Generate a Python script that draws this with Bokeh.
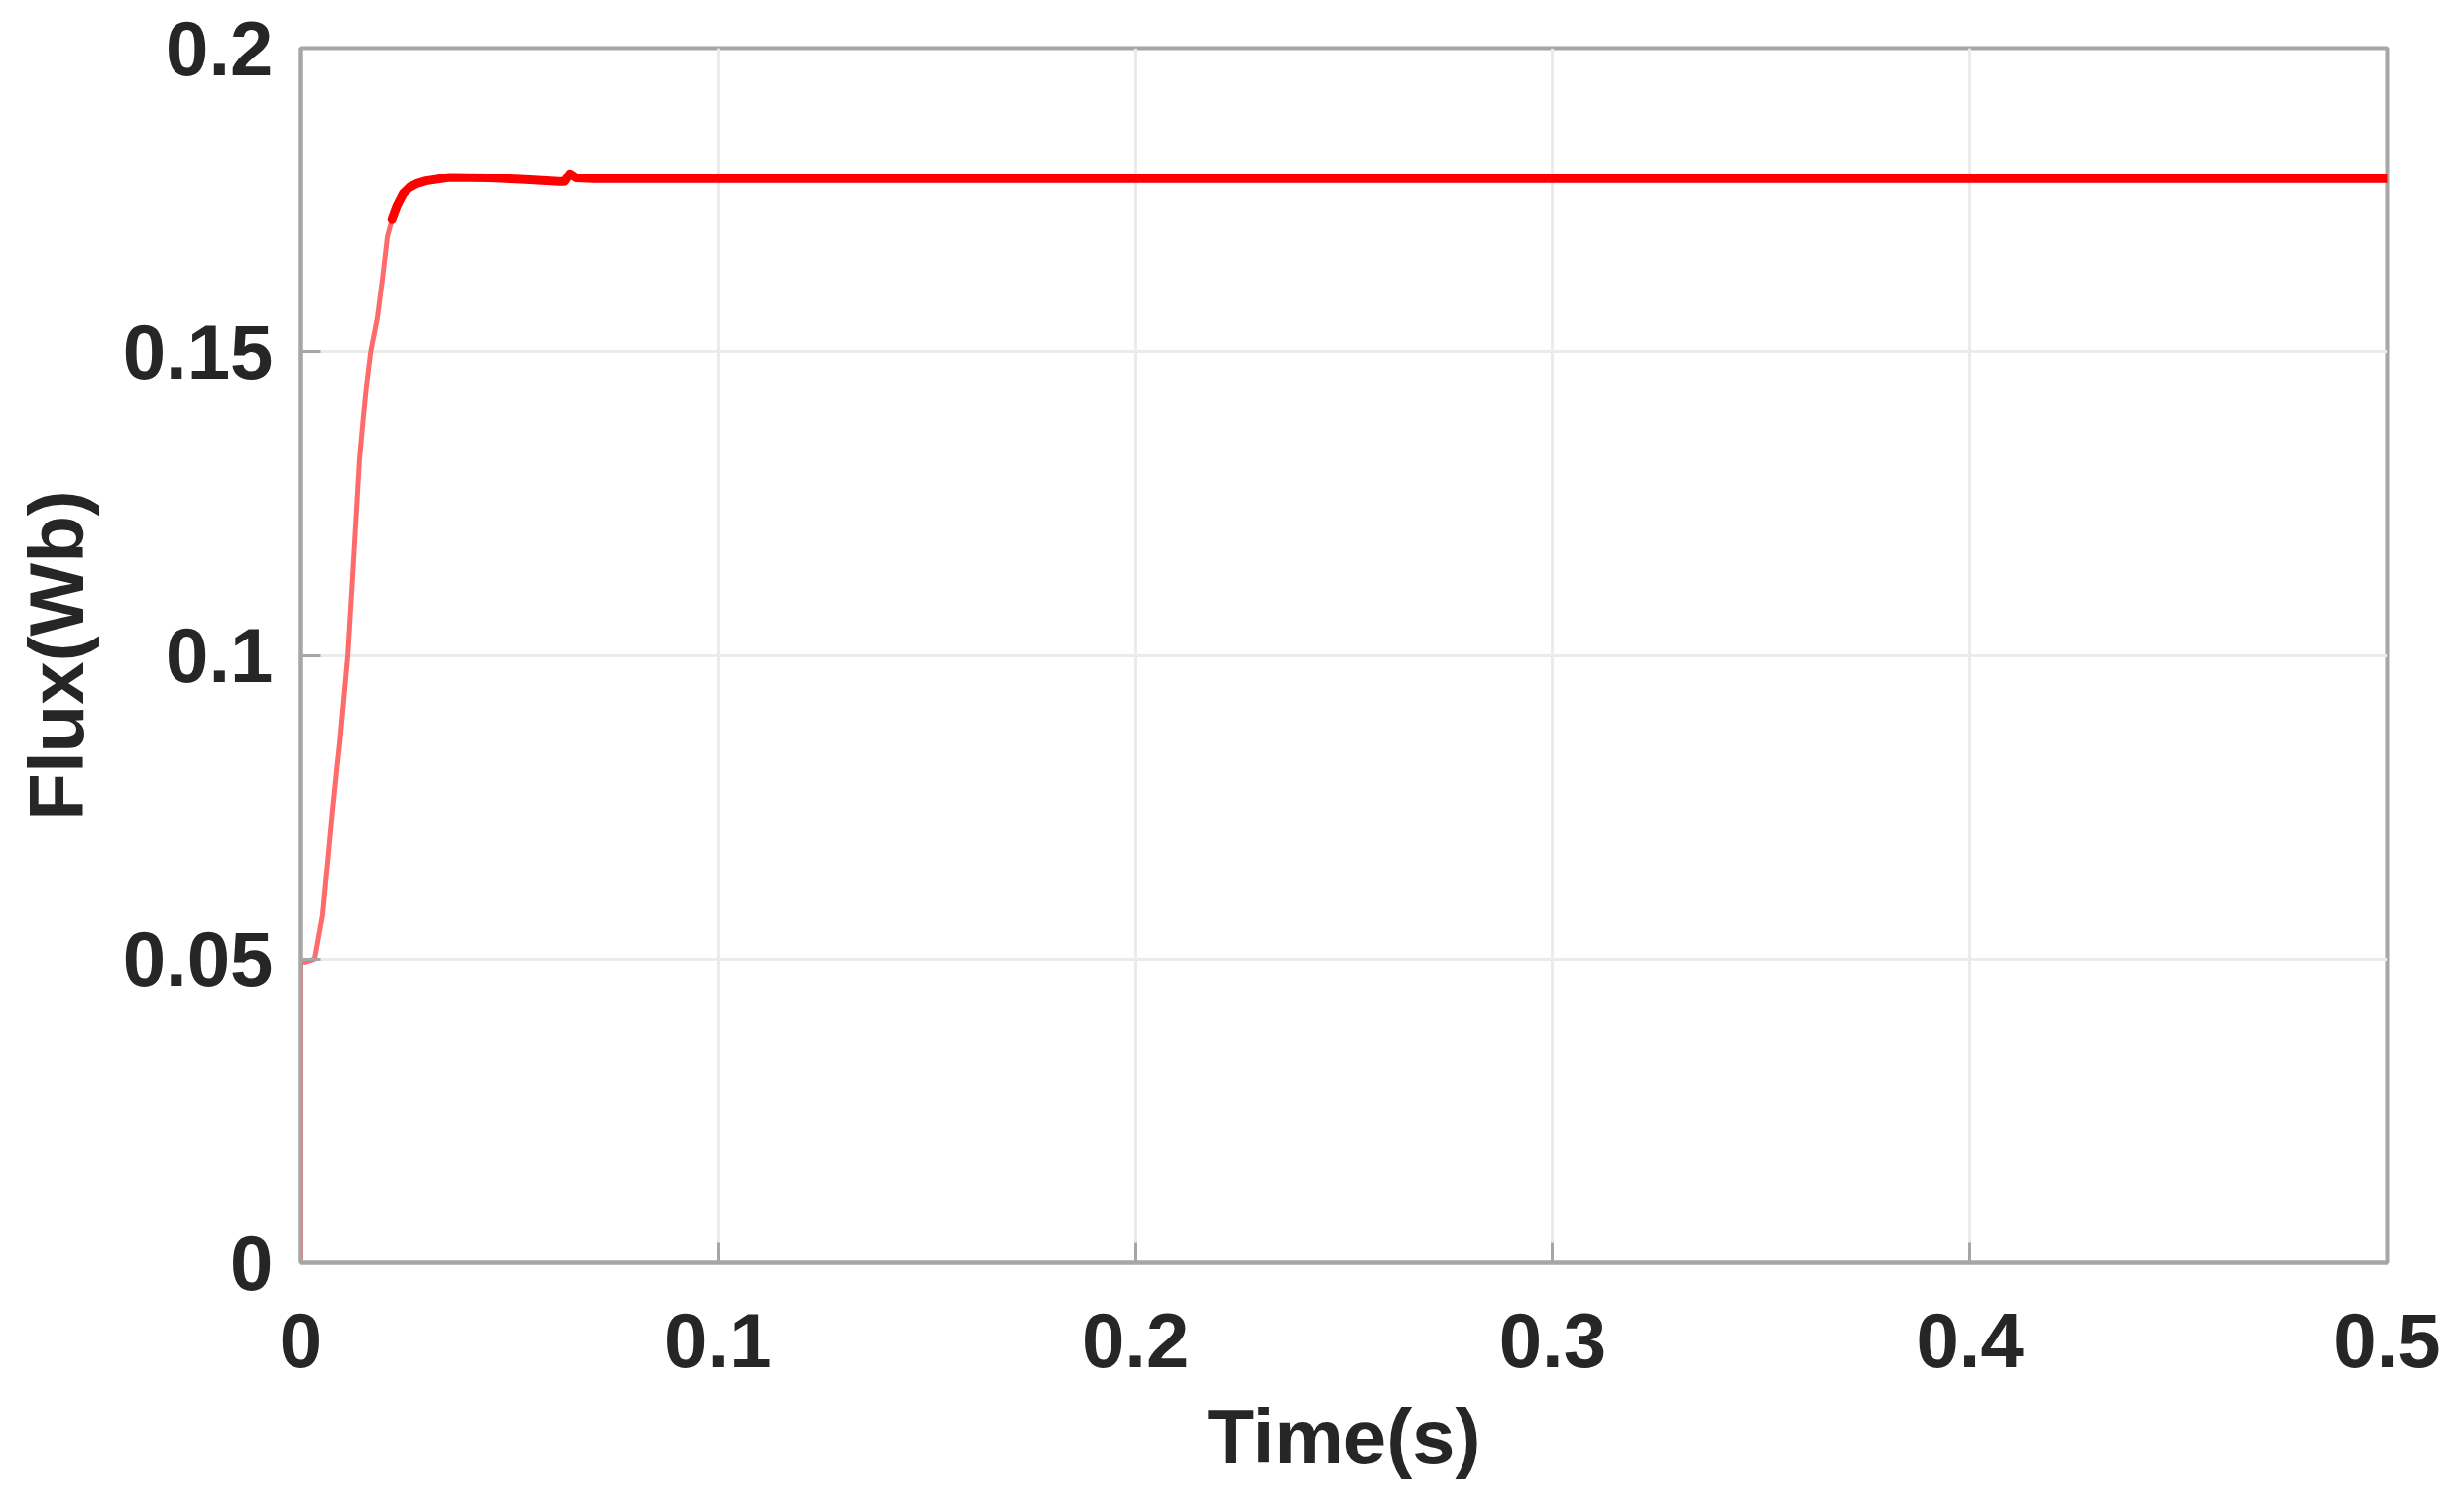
from bokeh.plotting import figure
from bokeh.models import Range1d, FixedTicker
from bokeh.embed import file_html
from bokeh.resources import INLINE

# ---- data ----
time_s = [0.0, 0.0, 0.001, 0.0033, 0.0052, 0.0076, 0.0095, 0.0112, 0.0124, 0.014,
          0.0155, 0.0167, 0.0183, 0.0195, 0.0207, 0.0218, 0.023, 0.0245, 0.026,
          0.028, 0.030, 0.0356, 0.045, 0.055, 0.0618, 0.0632, 0.0645, 0.0660,
          0.070, 0.08, 0.1, 0.15, 0.2, 0.25, 0.3, 0.35, 0.4, 0.45, 0.5]
flux_wb = [0.0, 0.0495, 0.0495, 0.0500, 0.0572, 0.0745, 0.0872, 0.1000, 0.1135, 0.1322,
           0.1433, 0.1500, 0.1556, 0.1620, 0.1690, 0.1718, 0.1740, 0.1760, 0.1770,
           0.1777, 0.1781, 0.1787, 0.1786, 0.1783, 0.1780, 0.1780, 0.1793, 0.1786,
           0.1785, 0.1785, 0.1785, 0.1785, 0.1785, 0.1785, 0.1785, 0.1785, 0.1785,
           0.1785, 0.1785]

x_ticks = [0, 0.1, 0.2, 0.3, 0.4, 0.5]
x_tick_labels = ["0", "0.1", "0.2", "0.3", "0.4", "0.5"]
y_ticks = [0, 0.05, 0.1, 0.15, 0.2]
y_tick_labels = ["0", "0.05", "0.1", "0.15", "0.2"]

FONT = "Liberation Sans"
TEXT = "#262626"
FRAME = "#a6a6a6"

p = figure(frame_width=2104, frame_height=1225,
           min_border_left=303, min_border_right=55,
           min_border_top=48, min_border_bottom=236,
           x_range=Range1d(0, 0.5), y_range=Range1d(0, 0.2),
           output_backend="svg", toolbar_location=None,
           background_fill_color="white", border_fill_color="white")

p.outline_line_color = FRAME
p.outline_line_width = 4

p.xgrid.grid_line_color = "#ebebeb"
p.ygrid.grid_line_color = "#ebebeb"
p.xgrid.grid_line_width = 3
p.ygrid.grid_line_width = 3

for ax, ticks, labels in ((p.xaxis[0], x_ticks, x_tick_labels),
                          (p.yaxis[0], y_ticks, y_tick_labels)):
    ax.ticker = FixedTicker(ticks=ticks)
    ax.major_label_overrides = {t: l for t, l in zip(ticks, labels)}
    ax.minor_tick_line_color = None
    ax.major_tick_out = 0
    ax.major_tick_in = 20
    ax.major_tick_line_color = FRAME
    ax.major_tick_line_width = 3
    ax.axis_line_color = FRAME
    ax.axis_line_width = 4
    ax.major_label_text_font = FONT
    ax.major_label_text_font_style = "bold"
    ax.major_label_text_font_size = "78px"
    ax.major_label_text_color = TEXT
    ax.axis_label_text_font = FONT
    ax.axis_label_text_font_style = "bold"
    ax.axis_label_text_font_size = "78px"
    ax.axis_label_text_color = TEXT

p.xaxis.axis_label = "Time(s)"
p.yaxis.axis_label = "Flux(Wb)"
p.xaxis.major_label_standoff = 51
p.xaxis.axis_label_standoff = 23
p.yaxis.major_label_standoff = 28
p.yaxis.axis_label_standoff = 20

# transient (thin, lighter) and steady state (thick ripple band)
split = 15
p.line(time_s[:split + 2], flux_wb[:split + 2], line_color="#ff6a6a", line_width=5)
p.line(time_s[split:], flux_wb[split:], line_color="#ff0000", line_width=9,
       line_join="round", line_cap="round")

open("out.html", "w").write(file_html(p, INLINE))
